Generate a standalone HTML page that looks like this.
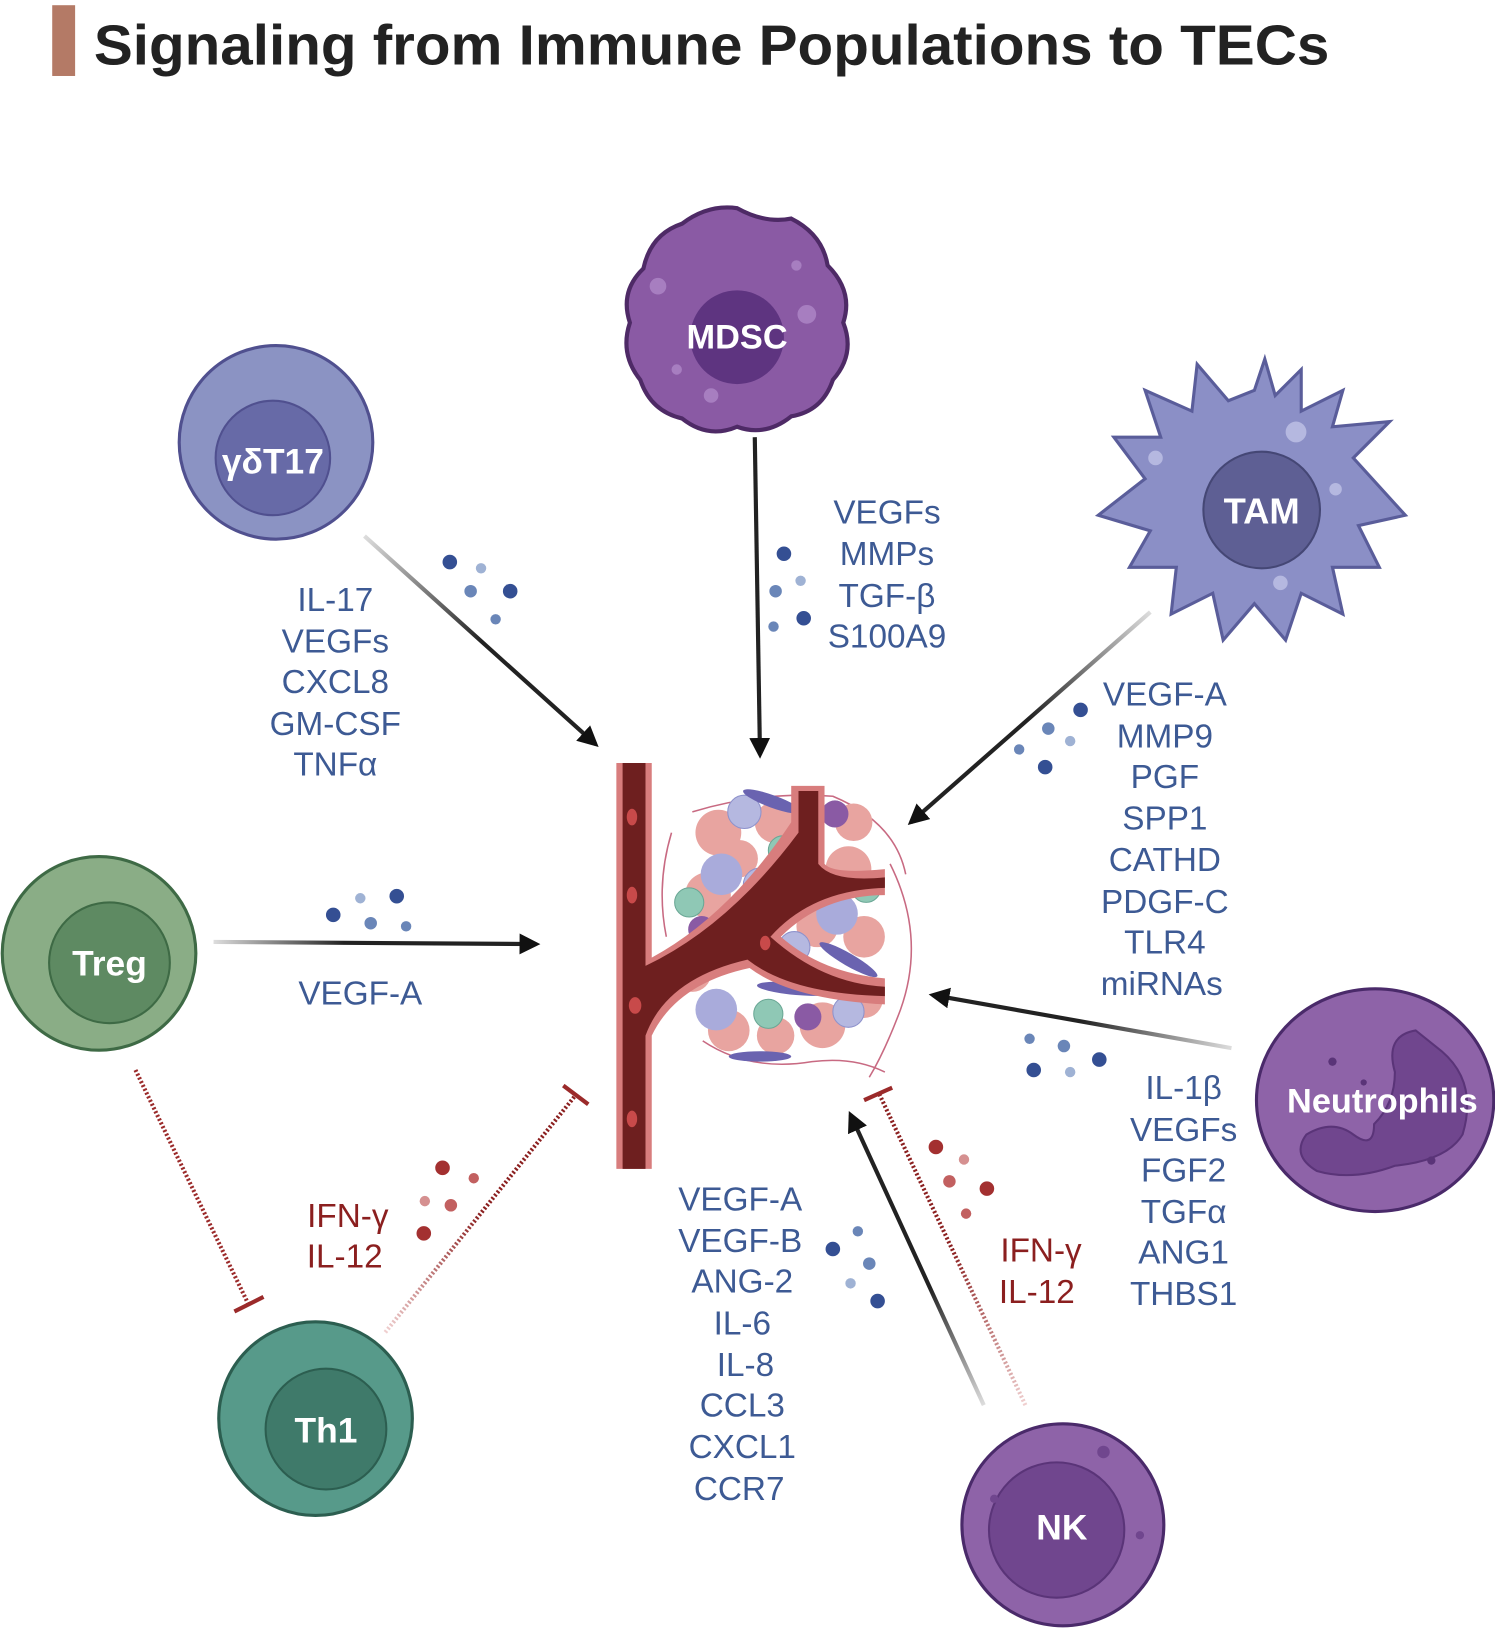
<!DOCTYPE html>
<html><head><meta charset="utf-8">
<style>
html,body{margin:0;padding:0;background:#fff;}
svg{display:block;}
.b{font-family:"Liberation Sans",sans-serif;font-size:32px;fill:#3d5a94;text-anchor:middle;}
.r{font-family:"Liberation Sans",sans-serif;font-size:32px;fill:#8b1f1f;text-anchor:middle;}
.w{font-family:"Liberation Sans",sans-serif;font-weight:bold;fill:#fff;text-anchor:middle;}
</style></head>
<body>
<svg width="1495" height="1631" viewBox="0 0 1436 1567" xmlns="http://www.w3.org/2000/svg">
<defs>
<marker id="ah" viewBox="0 0 10 10" refX="8" refY="5" markerWidth="5" markerHeight="5" orient="auto"><path d="M0,0 L10,5 L0,10 z" fill="#111"/></marker>
<linearGradient id="g1" gradientUnits="userSpaceOnUse" x1="350" y1="515" x2="575" y2="718"><stop offset="0" stop-color="#ddd"/><stop offset=".5" stop-color="#222"/></linearGradient>
<linearGradient id="g2" gradientUnits="userSpaceOnUse" x1="1105" y1="588" x2="872" y2="793"><stop offset="0" stop-color="#ddd"/><stop offset=".5" stop-color="#222"/></linearGradient>
<linearGradient id="g3" gradientUnits="userSpaceOnUse" x1="205" y1="905" x2="518" y2="907"><stop offset="0" stop-color="#ddd"/><stop offset=".4" stop-color="#222"/></linearGradient>
<linearGradient id="g4" gradientUnits="userSpaceOnUse" x1="1183" y1="1007" x2="893" y2="955"><stop offset="0" stop-color="#ddd"/><stop offset=".5" stop-color="#222"/></linearGradient>
<linearGradient id="g5" gradientUnits="userSpaceOnUse" x1="945" y1="1350" x2="815" y2="1068"><stop offset="0" stop-color="#ddd"/><stop offset=".4" stop-color="#222"/></linearGradient>
<linearGradient id="g6" gradientUnits="userSpaceOnUse" x1="370" y1="1280" x2="553" y2="1050"><stop offset="0" stop-color="#f0d0d0"/><stop offset=".5" stop-color="#8b1f1f"/></linearGradient>
<linearGradient id="g7" gradientUnits="userSpaceOnUse" x1="985" y1="1350" x2="845" y2="1050"><stop offset="0" stop-color="#f0d0d0"/><stop offset=".5" stop-color="#8b1f1f"/></linearGradient>
</defs>

<rect x="50" y="5" width="22" height="68" fill="#b47a66"/>
<text x="90" y="62" font-family="'Liberation Sans',sans-serif" font-weight="bold" font-size="54" fill="#222" textLength="1187" lengthAdjust="spacingAndGlyphs">Signaling from Immune Populations to TECs</text>

<path d="M708,200 Q735,215 760,210 Q790,225 795,255 Q820,280 810,310 Q822,340 800,365 Q790,395 760,400 Q735,420 708,410 Q680,422 655,402 Q625,395 615,365 Q595,340 605,310 Q595,280 618,258 Q625,225 655,215 Q680,196 708,200 Z" fill="#8a5aa4" stroke="#4e2a66" stroke-width="4"/>
<circle cx="632" cy="275" r="8" fill="#a77ec0"/><circle cx="775" cy="302" r="9" fill="#a77ec0"/><circle cx="683" cy="380" r="7" fill="#a77ec0"/><circle cx="765" cy="255" r="5" fill="#a77ec0"/><circle cx="650" cy="355" r="5" fill="#a77ec0"/>
<circle cx="708" cy="324" r="45" fill="#5e3480"/>
<text x="708" y="335" class="w" font-size="33">MDSC</text>

<circle cx="265" cy="425" r="93" fill="#8b93c3" stroke="#50508f" stroke-width="3"/>
<circle cx="262" cy="440" r="55" fill="#676aa7" stroke="#50508f" stroke-width="2"/>
<text x="262" y="455" class="w" font-size="34">γδT17</text>

<g fill="#8b8fc6" stroke="#5a5d9a" stroke-width="3">
<path d="M1205,375 L1215,345 L1225,380 L1250,355 L1250,395 L1290,375 L1280,410 L1335,405 L1300,440 L1350,495 L1305,505 L1325,545 L1280,545 L1290,590 L1250,570 L1235,615 L1205,580 L1175,615 L1165,570 L1125,590 L1130,545 L1085,545 L1105,510 L1055,495 L1100,460 L1070,420 L1115,420 L1100,375 L1145,395 L1150,350 L1180,385 Z"/>
</g>
<circle cx="1245" cy="415" r="10" fill="#b5b8e0"/><circle cx="1110" cy="440" r="7" fill="#b5b8e0"/><circle cx="1230" cy="560" r="7" fill="#b5b8e0"/><circle cx="1283" cy="470" r="6" fill="#b5b8e0"/>
<circle cx="1212" cy="490" r="56" fill="#5e5f94" stroke="#454775" stroke-width="2"/>
<text x="1212" y="503" class="w" font-size="35">TAM</text>

<circle cx="95" cy="916" r="93" fill="#8aad86" stroke="#3e6a45" stroke-width="3"/>
<circle cx="105" cy="925" r="58" fill="#5e8a62" stroke="#3e6a45" stroke-width="2"/>
<text x="105" y="937" class="w" font-size="34">Treg</text>

<circle cx="303" cy="1363" r="93" fill="#579a8a" stroke="#2c5e50" stroke-width="3"/>
<circle cx="313" cy="1373" r="58" fill="#3f7a6a" stroke="#2c5e50" stroke-width="2"/>
<text x="313" y="1386" class="w" font-size="34">Th1</text>

<ellipse cx="1321" cy="1057" rx="114" ry="107" fill="#8e63a8" stroke="#4a2a6a" stroke-width="3"/>
<path d="M1385,1010 Q1420,1040 1405,1090 Q1390,1115 1340,1120 Q1300,1135 1265,1125 Q1240,1110 1255,1090 Q1280,1075 1300,1090 Q1320,1105 1320,1080 Q1340,1060 1340,1030 Q1330,995 1360,990 Z" fill="#70468e" stroke="#5a3478" stroke-width="2"/>
<circle cx="1280" cy="1020" r="4" fill="#5a3478"/><circle cx="1375" cy="1115" r="4" fill="#5a3478"/><circle cx="1310" cy="1040" r="3" fill="#5a3478"/>
<text x="1328" y="1069" class="w" font-size="33">Neutrophils</text>

<circle cx="1021" cy="1465" r="97" fill="#8e63a8" stroke="#4a2a6a" stroke-width="3"/>
<circle cx="1015" cy="1470" r="65" fill="#70468e" stroke="#5a3478" stroke-width="2"/>
<circle cx="1060" cy="1395" r="6" fill="#70468e"/><circle cx="955" cy="1440" r="4" fill="#70468e"/><circle cx="1095" cy="1475" r="4" fill="#70468e"/>
<text x="1020" y="1479" class="w" font-size="34">NK</text>

<!-- tumor cluster -->
<g>
<g fill="none" stroke="#c86a82" stroke-width="1.5">
<path d="M665,780 Q730,760 800,765 Q860,790 870,840"/>
<path d="M855,830 Q890,900 865,970 Q850,1010 835,1035"/>
<path d="M675,1000 Q720,1030 780,1020 Q820,1015 850,1030"/>
<path d="M645,800 Q630,850 640,900"/>
</g>
<g fill="#e8a4a0">
<circle cx="690" cy="800" r="22"/><circle cx="745" cy="790" r="20"/><circle cx="680" cy="860" r="22"/><circle cx="730" cy="875" r="22"/><circle cx="815" cy="835" r="22"/><circle cx="830" cy="900" r="20"/><circle cx="785" cy="890" r="20"/><circle cx="700" cy="990" r="20"/><circle cx="790" cy="985" r="22"/><circle cx="830" cy="960" r="18"/><circle cx="665" cy="935" r="18"/><circle cx="760" cy="830" r="18"/><circle cx="710" cy="825" r="18"/><circle cx="820" cy="790" r="18"/><circle cx="745" cy="995" r="18"/>
</g>
<g fill="#b5b8e0" stroke="#8e92cc"><circle cx="715" cy="780" r="16"/><circle cx="730" cy="850" r="16"/><circle cx="815" cy="972" r="15"/><circle cx="763" cy="910" r="15"/></g>
<g fill="#8fc8b5" stroke="#6aa795"><circle cx="752" cy="817" r="14"/><circle cx="662" cy="867" r="14"/><circle cx="832" cy="853" r="14"/><circle cx="738" cy="974" r="14"/></g>
<g fill="#a9abdb"><circle cx="693" cy="840" r="20"/><circle cx="804" cy="878" r="20"/><circle cx="688" cy="970" r="20"/></g>
<g fill="#8a5aa4"><circle cx="802" cy="782" r="13"/><circle cx="674" cy="893" r="13"/><circle cx="776" cy="977" r="13"/></g>
<g fill="#6a63b0"><ellipse cx="742" cy="770" rx="30" ry="6" transform="rotate(20 742 770)"/><ellipse cx="815" cy="922" rx="32" ry="6" transform="rotate(30 815 922)"/><ellipse cx="765" cy="950" rx="38" ry="6" transform="rotate(5 765 950)"/><ellipse cx="730" cy="1015" rx="30" ry="5"/><ellipse cx="660" cy="915" rx="30" ry="6" transform="rotate(-35 660 915)"/></g>
</g>

<g>
<path d="M592,733 L626,733 L626,920 Q700,880 760,790 L760,755 L792,755 L792,830 Q800,840 850,835 L850,860 Q790,860 750,900 Q790,935 850,940 L850,965 Q760,960 720,930 Q650,945 626,995 L626,1123 L592,1123 Z" fill="#d87d7d"/>
<path d="M598,733 L620,733 L620,928 Q700,890 767,800 L767,760 L786,760 L786,830 Q800,848 850,843 L850,853 Q780,855 740,900 Q790,945 850,948 L850,957 Q760,955 718,922 Q640,940 620,995 L620,1123 L598,1123 Z" fill="#6e1f1f"/>
<g fill="#c84a4a"><ellipse cx="607" cy="785" rx="5" ry="8"/><ellipse cx="607" cy="860" rx="5" ry="8"/><ellipse cx="610" cy="966" rx="6" ry="8"/><ellipse cx="607" cy="1075" rx="5" ry="8"/><ellipse cx="735" cy="906" rx="5" ry="7"/></g>
</g>

<g fill="none" stroke-width="4">
<line x1="350" y1="515" x2="572" y2="715" stroke="url(#g1)" marker-end="url(#ah)"/>
<line x1="725" y1="420" x2="730" y2="725" stroke="#222" marker-end="url(#ah)"/>
<line x1="1105" y1="588" x2="875" y2="790" stroke="url(#g2)" marker-end="url(#ah)"/>
<line x1="205" y1="905" x2="515" y2="907" stroke="url(#g3)" marker-end="url(#ah)"/>
<line x1="1183" y1="1007" x2="896" y2="956" stroke="url(#g4)" marker-end="url(#ah)"/>
<line x1="945" y1="1350" x2="817" y2="1071" stroke="url(#g5)" marker-end="url(#ah)"/>
</g>
<g fill="none">
<line x1="130" y1="1028" x2="238" y2="1252" stroke="#9b2a2a" stroke-width="4" stroke-dasharray="2 2"/>
<line x1="225" y1="1260" x2="253" y2="1246" stroke="#9b2a2a" stroke-width="4"/>
<line x1="370" y1="1280" x2="553" y2="1052" stroke="url(#g6)" stroke-width="4" stroke-dasharray="2 2"/>
<line x1="541" y1="1043" x2="565" y2="1061" stroke="#9b2a2a" stroke-width="4"/>
<line x1="985" y1="1350" x2="845" y2="1052" stroke="url(#g7)" stroke-width="4" stroke-dasharray="2 2"/>
<line x1="830" y1="1057" x2="857" y2="1045" stroke="#9b2a2a" stroke-width="4"/>
</g>

<g fill="#344f93">
<circle cx="432" cy="540" r="7"/><circle cx="490" cy="568" r="7"/><circle cx="452" cy="568" r="6" fill="#6a86b8"/><circle cx="476" cy="595" r="5" fill="#6a86b8"/><circle cx="462" cy="546" r="5" fill="#9fb2d4"/>
<circle cx="753" cy="532" r="7"/><circle cx="745" cy="568" r="6" fill="#6a86b8"/><circle cx="769" cy="558" r="5" fill="#9fb2d4"/><circle cx="743" cy="602" r="5" fill="#6a86b8"/><circle cx="772" cy="594" r="7"/>
<circle cx="1038" cy="682" r="7"/><circle cx="1007" cy="700" r="6" fill="#6a86b8"/><circle cx="1028" cy="712" r="5" fill="#9fb2d4"/><circle cx="979" cy="720" r="5" fill="#6a86b8"/><circle cx="1004" cy="737" r="7"/>
<circle cx="320" cy="879" r="7"/><circle cx="381" cy="861" r="7"/><circle cx="346" cy="863" r="5" fill="#9fb2d4"/><circle cx="356" cy="887" r="6" fill="#6a86b8"/><circle cx="390" cy="890" r="5" fill="#6a86b8"/>
<circle cx="989" cy="998" r="5" fill="#6a86b8"/><circle cx="1022" cy="1005" r="6" fill="#6a86b8"/><circle cx="993" cy="1028" r="7"/><circle cx="1028" cy="1030" r="5" fill="#9fb2d4"/><circle cx="1056" cy="1018" r="7"/>
<circle cx="800" cy="1200" r="7"/><circle cx="824" cy="1183" r="5" fill="#6a86b8"/><circle cx="835" cy="1214" r="6" fill="#6a86b8"/><circle cx="817" cy="1233" r="5" fill="#9fb2d4"/><circle cx="843" cy="1250" r="7"/>
</g>
<g fill="#a33030">
<circle cx="425" cy="1122" r="7"/><circle cx="455" cy="1132" r="5" fill="#c26060"/><circle cx="408" cy="1154" r="5" fill="#d59090"/><circle cx="433" cy="1158" r="6" fill="#c26060"/><circle cx="407" cy="1185" r="7"/>
<circle cx="899" cy="1102" r="7"/><circle cx="926" cy="1114" r="5" fill="#d59090"/><circle cx="912" cy="1135" r="6" fill="#c26060"/><circle cx="948" cy="1142" r="7"/><circle cx="928" cy="1166" r="5" fill="#c26060"/>
</g>

<g>
<text x="322" y="587" class="b">IL-17</text><text x="322" y="627" class="b">VEGFs</text><text x="322" y="666" class="b">CXCL8</text><text x="322" y="706" class="b">GM-CSF</text><text x="322" y="745" class="b">TNFα</text>
<text x="852" y="503" class="b">VEGFs</text><text x="852" y="543" class="b">MMPs</text><text x="852" y="583" class="b">TGF-β</text><text x="852" y="622" class="b">S100A9</text>
<text x="1119" y="678" class="b">VEGF-A</text><text x="1119" y="718" class="b">MMP9</text><text x="1119" y="757" class="b">PGF</text><text x="1119" y="797" class="b">SPP1</text><text x="1119" y="837" class="b">CATHD</text><text x="1119" y="877" class="b">PDGF-C</text><text x="1119" y="916" class="b">TLR4</text><text x="1116" y="956" class="b">miRNAs</text>
<text x="346" y="965" class="b">VEGF-A</text>
<text x="1137" y="1056" class="b">IL-1β</text><text x="1137" y="1096" class="b">VEGFs</text><text x="1137" y="1135" class="b">FGF2</text><text x="1137" y="1175" class="b">TGFα</text><text x="1137" y="1214" class="b">ANG1</text><text x="1137" y="1254" class="b">THBS1</text>
<text x="711" y="1163" class="b">VEGF-A</text><text x="711" y="1203" class="b">VEGF-B</text><text x="713" y="1242" class="b">ANG-2</text><text x="713" y="1282" class="b">IL-6</text><text x="716" y="1322" class="b">IL-8</text><text x="713" y="1361" class="b">CCL3</text><text x="713" y="1401" class="b">CXCL1</text><text x="710" y="1441" class="b">CCR7</text>
</g>
<text x="334" y="1179" class="r">IFN-γ</text><text x="331" y="1218" class="r">IL-12</text>
<text x="1000" y="1212" class="r">IFN-γ</text><text x="996" y="1252" class="r">IL-12</text>
</svg>
</body></html>
